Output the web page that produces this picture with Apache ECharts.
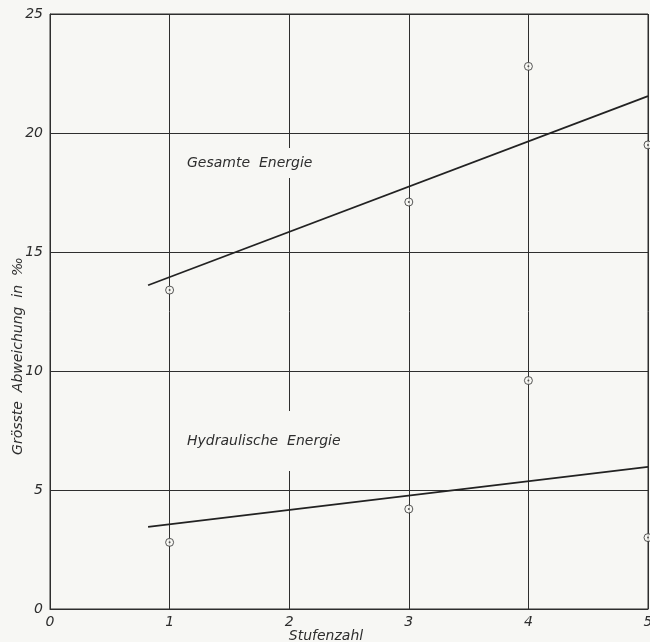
<!DOCTYPE html>
<html>
<head>
<meta charset="utf-8">
<script src="https://cdn.jsdelivr.net/npm/echarts@6/dist/echarts.min.js"></script>
<style>
  html, body { margin: 0; padding: 0; background: #f7f7f4; }
  #chart { width: 650px; height: 642px; }
</style>
</head>
<body>
<div id="chart"></div>
<script>
// measured points (Stufenzahl, deviation in per mille)
const stufen = [1, 3, 4, 5]
const gesamtPts = [13.4, 17.1, 22.8, 19.5]
const hydroPts = [2.8, 4.2, 9.6, 3.0]

// fitted straight lines, start and end
const lineX = [0.82, 5]
const gesamtLine = [13.6, 21.55]
const hydroLine = [3.45, 5.97]

const xTicks = [0, 1, 2, 3, 4, 5]
const yTicks = [0, 5, 10, 15, 20, 25]

const bg = '#f7f7f4'
const ink = '#2e2e2e'
const font = 'DejaVu Sans'

function pairs(xs, ys) {
  return xs.map((x, i) => [x, ys[i]])
}

const chart = echarts.init(document.getElementById('chart'))

const axisText = {
  color: ink,
  fontFamily: font,
  fontStyle: 'italic',
  fontSize: 14
}

const option = {
  backgroundColor: bg,
  animation: false,
  grid: {
    left: 50,
    right: 2,
    top: 14,
    bottom: 33,
    outerBoundsMode: 'none',
    show: true,
    borderColor: ink,
    borderWidth: 1
  },
  xAxis: {
    type: 'value',
    min: xTicks[0],
    max: xTicks[xTicks.length - 1],
    interval: 1,
    axisLine: { lineStyle: { color: ink } },
    axisTick: { show: false },
    axisLabel: Object.assign({}, axisText, { margin: 6 }),
    splitLine: { show: true, lineStyle: { color: ink, width: 1 } }
  },
  yAxis: {
    type: 'value',
    min: yTicks[0],
    max: yTicks[yTicks.length - 1],
    interval: 5,
    axisLine: { show: true, lineStyle: { color: ink } },
    axisTick: { show: false },
    axisLabel: Object.assign({}, axisText, { margin: 7 }),
    splitLine: { show: true, lineStyle: { color: ink, width: 1 } }
  },
  graphic: [
    {
      type: 'text',
      x: 18,
      y: 356,
      rotation: Math.PI / 2,
      style: {
        text: 'Grösste  Abweichung  in  ‰',
        fill: ink,
        font: 'italic 14px "DejaVu Sans"',
        align: 'center',
        verticalAlign: 'middle'
      },
      z: 10
    },
    {
      type: 'text',
      x: 326,
      y: 636,
      style: {
        text: 'Stufenzahl',
        fill: ink,
        font: 'italic 14px "DejaVu Sans"',
        align: 'center',
        verticalAlign: 'middle'
      },
      z: 10
    },
    {
      type: 'text',
      x: 183,
      y: 163,
      style: {
        text: 'Gesamte  Energie',
        fill: ink,
        font: 'italic 14px "DejaVu Sans"',
        verticalAlign: 'middle',
        backgroundColor: bg,
        padding: [10, 4, 6, 4]
      },
      z: 10
    },
    {
      type: 'text',
      x: 183,
      y: 441,
      style: {
        text: 'Hydraulische  Energie',
        fill: ink,
        font: 'italic 14px "DejaVu Sans"',
        verticalAlign: 'middle',
        backgroundColor: bg,
        padding: [28, 4, 18, 4]
      },
      z: 10
    }
  ],
  series: [
    {
      type: 'line',
      data: pairs(lineX, gesamtLine),
      symbol: 'none',
      lineStyle: { color: '#222', width: 1.7 }
    },
    {
      type: 'line',
      data: pairs(lineX, hydroLine),
      symbol: 'none',
      lineStyle: { color: '#222', width: 1.7 }
    },
    {
      type: 'scatter',
      data: pairs(stufen, gesamtPts).concat(pairs(stufen, hydroPts)),
      symbol: 'circle',
      symbolSize: 8,
      itemStyle: { color: bg, borderColor: ink, borderWidth: 1 },
      z: 5
    },
    {
      type: 'scatter',
      data: pairs(stufen, gesamtPts).concat(pairs(stufen, hydroPts)),
      symbol: 'circle',
      symbolSize: 2,
      itemStyle: { color: ink },
      z: 6
    }
  ]
}

chart.setOption(option)
</script>
</body>
</html>
